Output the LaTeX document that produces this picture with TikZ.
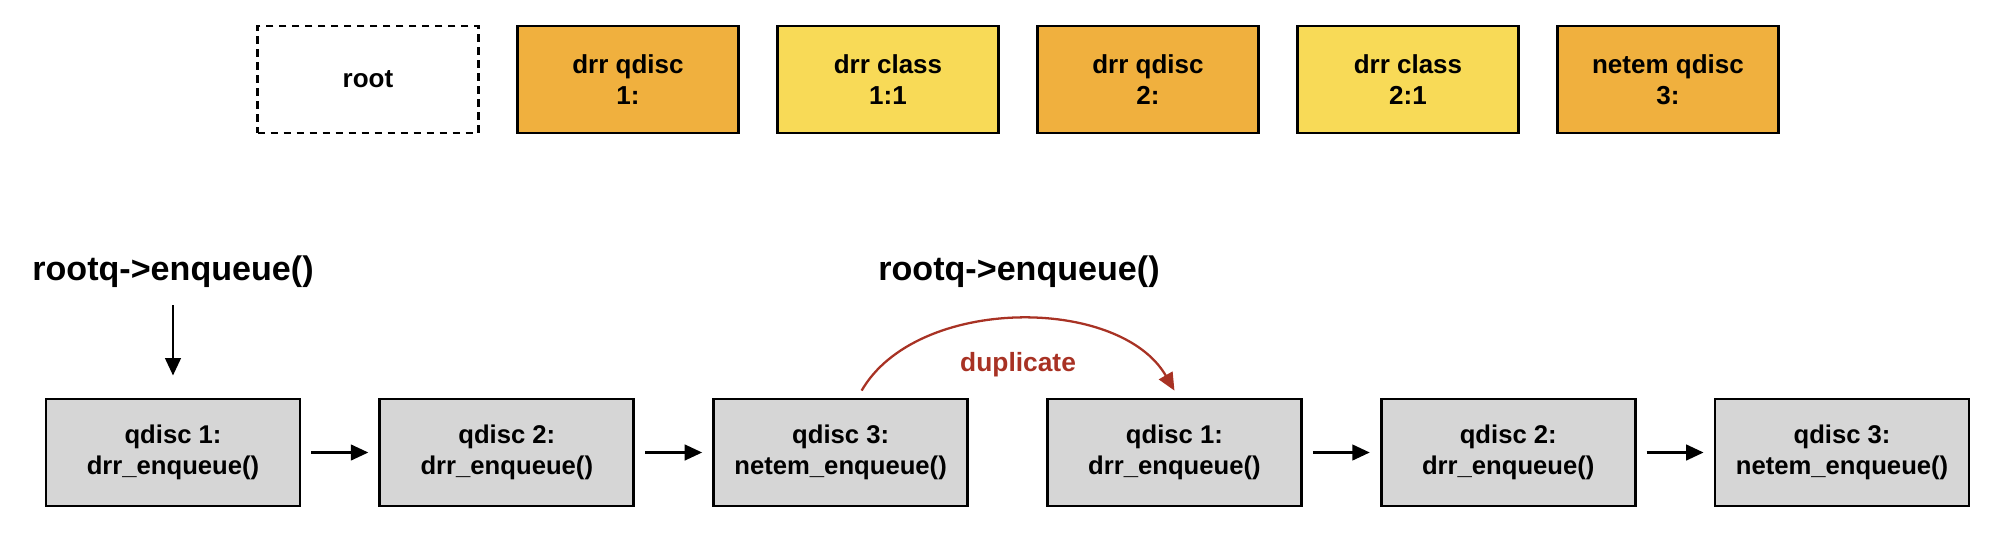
\documentclass[tikz,border=0pt]{standalone}
\usepackage{fontspec}
\setmainfont{Liberation Sans}
\usetikzlibrary{arrows.meta,positioning}

\definecolor{qdiscorange}{RGB}{240,176,62}
\definecolor{classyellow}{RGB}{248,218,87}
\definecolor{callgray}{RGB}{214,214,214}
\definecolor{dupred}{RGB}{168,50,36}

\tikzset{
	treebox/.style={draw,line width=0.85pt,minimum width=2.21cm,minimum height=1.07cm,align=center,font=\fontsize{7.4}{8.9}\selectfont\bfseries},
	qdiscbox/.style={treebox,fill=qdiscorange},
	classbox/.style={treebox,fill=classyellow},
	callbox/.style={draw,line width=0.8pt,fill=callgray,minimum width=2.54cm,minimum height=1.07cm,align=center,font=\fontsize{7.3}{8.7}\selectfont\bfseries},
	calllabel/.style={font=\fontsize{9.7}{12}\selectfont\bfseries},
	flow/.style={->,>={Triangle[length=5pt,width=4.4pt]},line width=0.85pt,shorten <=0.1cm,shorten >=0.1cm},
}

\begin{document}
\begin{tikzpicture}
	\useasboundingbox (0,0) rectangle (19.92,-5.34);

	%qdisc tree
	\node[treebox,dash pattern=on 2.2pt off 1.5pt] (root) at (3.68,-0.795) {root};
	\node[qdiscbox,right=0.36cm of root] (q1) {drr qdisc\\1:};
	\node[classbox,right=0.36cm of q1] (c11) {drr class\\1:1};
	\node[qdiscbox,right=0.36cm of c11] (q2) {drr qdisc\\2:};
	\node[classbox,right=0.36cm of q2] (c21) {drr class\\2:1};
	\node[qdiscbox,right=0.36cm of c21] (q3) {netem qdisc\\3:};

	%first enqueue
	\node[calllabel] (rq1) at (1.73,-2.72) {rootq->enqueue()};
	\node[callbox] (e1) at (1.73,-4.525) {qdisc 1:\\drr\_enqueue()};
	\node[callbox,right=0.77cm of e1] (e2) {qdisc 2:\\drr\_enqueue()};
	\node[callbox,right=0.77cm of e2] (e3) {qdisc 3:\\netem\_enqueue()};
	\draw[flow,shorten <=0.05cm,shorten >=0.22cm] (rq1) -- (e1);
	\draw[flow] (e1) -- (e2);
	\draw[flow] (e2) -- (e3);

	%second enqueue
	\node[calllabel] (rq2) at (10.19,-2.72) {rootq->enqueue()};
	\node[callbox,right=0.77cm of e3] (e4) {qdisc 1:\\drr\_enqueue()};
	\node[callbox,right=0.77cm of e4] (e5) {qdisc 2:\\drr\_enqueue()};
	\node[callbox,right=0.77cm of e5] (e6) {qdisc 3:\\netem\_enqueue()};
	\draw[flow] (e4) -- (e5);
	\draw[flow] (e5) -- (e6);

	%duplicate
	\draw[->,>={Triangle[length=5pt,width=4.4pt]},line width=0.65pt,dupred]
		([xshift=0.21cm,yshift=0.07cm]e3.north) to[out=60,in=120,looseness=0.9]
		node[midway,below=0.2cm,font=\fontsize{7.5}{10}\selectfont\bfseries] (duptext) {duplicate}
		([yshift=0.07cm]e4.north);
\end{tikzpicture}
\end{document}
